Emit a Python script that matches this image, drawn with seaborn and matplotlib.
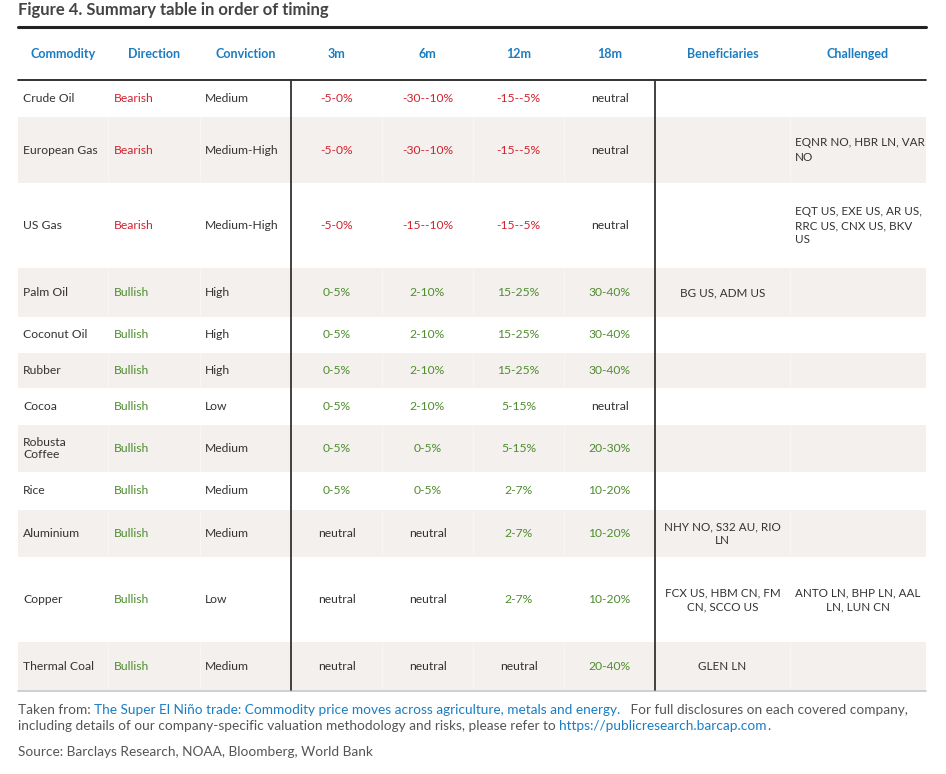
import matplotlib
matplotlib.use("Agg")
import matplotlib.pyplot as plt
import seaborn as sns

# table content
headers = ["Commodity", "Direction", "Conviction", "3m", "6m", "12m", "18m",
           "Beneficiaries", "Challenged"]
commodities = ["Crude Oil", "European Gas", "US Gas", "Palm Oil", "Coconut Oil",
               "Rubber", "Cocoa", "Robusta\nCoffee", "Rice", "Aluminium",
               "Copper", "Thermal Coal"]
direction = ["Bearish", "Bearish", "Bearish", "Bullish", "Bullish", "Bullish",
             "Bullish", "Bullish", "Bullish", "Bullish", "Bullish", "Bullish"]
conviction = ["Medium", "Medium-High", "Medium-High", "High", "High", "High",
              "Low", "Medium", "Medium", "Medium", "Low", "Medium"]
move_3m = ["-5-0%", "-5-0%", "-5-0%", "0-5%", "0-5%", "0-5%", "0-5%", "0-5%",
           "0-5%", "neutral", "neutral", "neutral"]
move_6m = ["-30--10%", "-30--10%", "-15--10%", "2-10%", "2-10%", "2-10%",
           "2-10%", "0-5%", "0-5%", "neutral", "neutral", "neutral"]
move_12m = ["-15--5%", "-15--5%", "-15--5%", "15-25%", "15-25%", "15-25%",
            "5-15%", "5-15%", "2-7%", "2-7%", "2-7%", "neutral"]
move_18m = ["neutral", "neutral", "neutral", "30-40%", "30-40%", "30-40%",
            "neutral", "20-30%", "10-20%", "10-20%", "10-20%", "20-40%"]
beneficiaries = ["", "", "", "BG US, ADM US", "", "", "", "", "",
                 "NHY NO, S32 AU, RIO\nLN", "FCX US, HBM CN, FM\nCN, SCCO US",
                 "GLEN LN"]
challenged = ["", "EQNR NO, HBR LN, VAR\nNO",
              "EQT US, EXE US, AR US,\nRRC US, CNX US, BKV\nUS",
              "", "", "", "", "", "", "", "ANTO LN, BHP LN, AAL\nLN, LUN CN", ""]

# layout (pixels)
W, H = 946, 774
x_left, x_right = 18, 926
col_edges = [18, 108, 200, 291, 382, 473, 564, 655, 790, 926]
row_edges = [80, 117, 183, 268, 317, 353, 388, 425, 472, 510, 557, 642, 690]
y_top, y_head = 27, 80

DARK = "#333333"
BLUE = "#1b7dc1"
RED = "#d2232f"
GREEN = "#4f8d2f"
SHADE = "#f3f0ed"

sns.set_theme(style="white")
plt.rcParams["font.family"] = ["Lato", "DejaVu Sans"]

fig = plt.figure(figsize=(W / 100, H / 100), dpi=100)
ax = fig.add_axes([0, 0, 1, 1])
ax.set_xlim(0, W)
ax.set_ylim(H, 0)
ax.axis("off")

fs = 8.7
fs_names = 8.4

# title
ax.text(x_left, 10, "Figure 4. Summary table in order of timing", fontsize=12,
        fontweight="bold", color="#444444", ha="left", va="center")

# row shading
for i in range(len(commodities)):
    if i % 2 == 1:
        ax.axhspan(row_edges[i], row_edges[i + 1], xmin=x_left / W, xmax=x_right / W,
                   color=SHADE, lw=0, zorder=0)
        for xe in col_edges[1:-1]:
            ax.plot([xe, xe], [row_edges[i], row_edges[i + 1]], color="#f9f8f6",
                    lw=0.6, zorder=1)

# header
head_y = (y_top + y_head) / 2
for j, h in enumerate(headers):
    xc = (col_edges[j] + col_edges[j + 1]) / 2
    ax.text(xc, head_y, h, fontsize=9, fontweight="bold", color=BLUE,
            ha="center", va="center")


def move_color(s):
    if s == "neutral":
        return DARK
    return RED if s.startswith("-") else GREEN


for i in range(len(commodities)):
    yc = (row_edges[i] + row_edges[i + 1]) / 2
    ax.text(col_edges[0] + 5, yc, commodities[i], fontsize=fs, color=DARK,
            ha="left", va="center", linespacing=1.05)
    ax.text(col_edges[1] + 6, yc, direction[i], fontsize=fs,
            color=RED if direction[i] == "Bearish" else GREEN,
            ha="left", va="center")
    ax.text(col_edges[2] + 5, yc, conviction[i], fontsize=fs, color=DARK,
            ha="left", va="center")
    for j, vals in enumerate([move_3m, move_6m, move_12m, move_18m]):
        xc = (col_edges[3 + j] + col_edges[4 + j]) / 2
        ax.text(xc, yc, vals[i], fontsize=fs, color=move_color(vals[i]),
                ha="center", va="center")
    if beneficiaries[i]:
        ax.text((col_edges[7] + col_edges[8]) / 2, yc, beneficiaries[i],
                fontsize=fs_names, color=DARK, ha="center", va="center",
                multialignment="center", linespacing=1.35)
    if challenged[i]:
        if commodities[i] == "Copper":
            ax.text((col_edges[8] + col_edges[9]) / 2, yc, challenged[i],
                    fontsize=fs_names, color=DARK, ha="center", va="center",
                    multialignment="center", linespacing=1.35)
        else:
            ax.text(col_edges[8] + 5, yc, challenged[i], fontsize=fs_names,
                    color=DARK, ha="left", va="center", linespacing=1.35)

# rules
ax.plot([x_left, x_right], [y_top, y_top], color="#222222", lw=2.2, zorder=3)
ax.plot([x_left, x_right], [y_head, y_head], color="#222222", lw=1.3, zorder=3)
ax.plot([x_left, x_right], [row_edges[-1] + 1, row_edges[-1] + 1],
        color="#cccccc", lw=1.3, zorder=3)
for xv in [col_edges[3], col_edges[7]]:
    ax.plot([xv, xv], [y_head, row_edges[-1]], color="#333333", lw=1.3, zorder=3)

# footer with mixed colours
fig.canvas.draw()
renderer = fig.canvas.get_renderer()


def run(x, y, pieces, size):
    for txt, col in pieces:
        t = ax.text(x, y, txt, fontsize=size, color=col, ha="left", va="center")
        bb = t.get_window_extent(renderer=renderer)
        x += bb.width


GREY = "#555555"
fsf = 9.8
run(x_left, 710, [("Taken from: ", GREY),
                  ("The Super El Niño trade: Commodity price moves across agriculture, metals and energy.", BLUE),
                  ("   For full disclosures on each covered company,", GREY)], fsf)
run(x_left, 726, [("including details of our company-specific valuation methodology and risks, please refer to ", GREY),
                  ("https://publicresearch.barcap.com", BLUE),
                  (".", GREY)], fsf)
run(x_left, 752, [("Source: Barclays Research, NOAA, Bloomberg, World Bank", GREY)], fsf)

fig.savefig("out.png", dpi=100)
